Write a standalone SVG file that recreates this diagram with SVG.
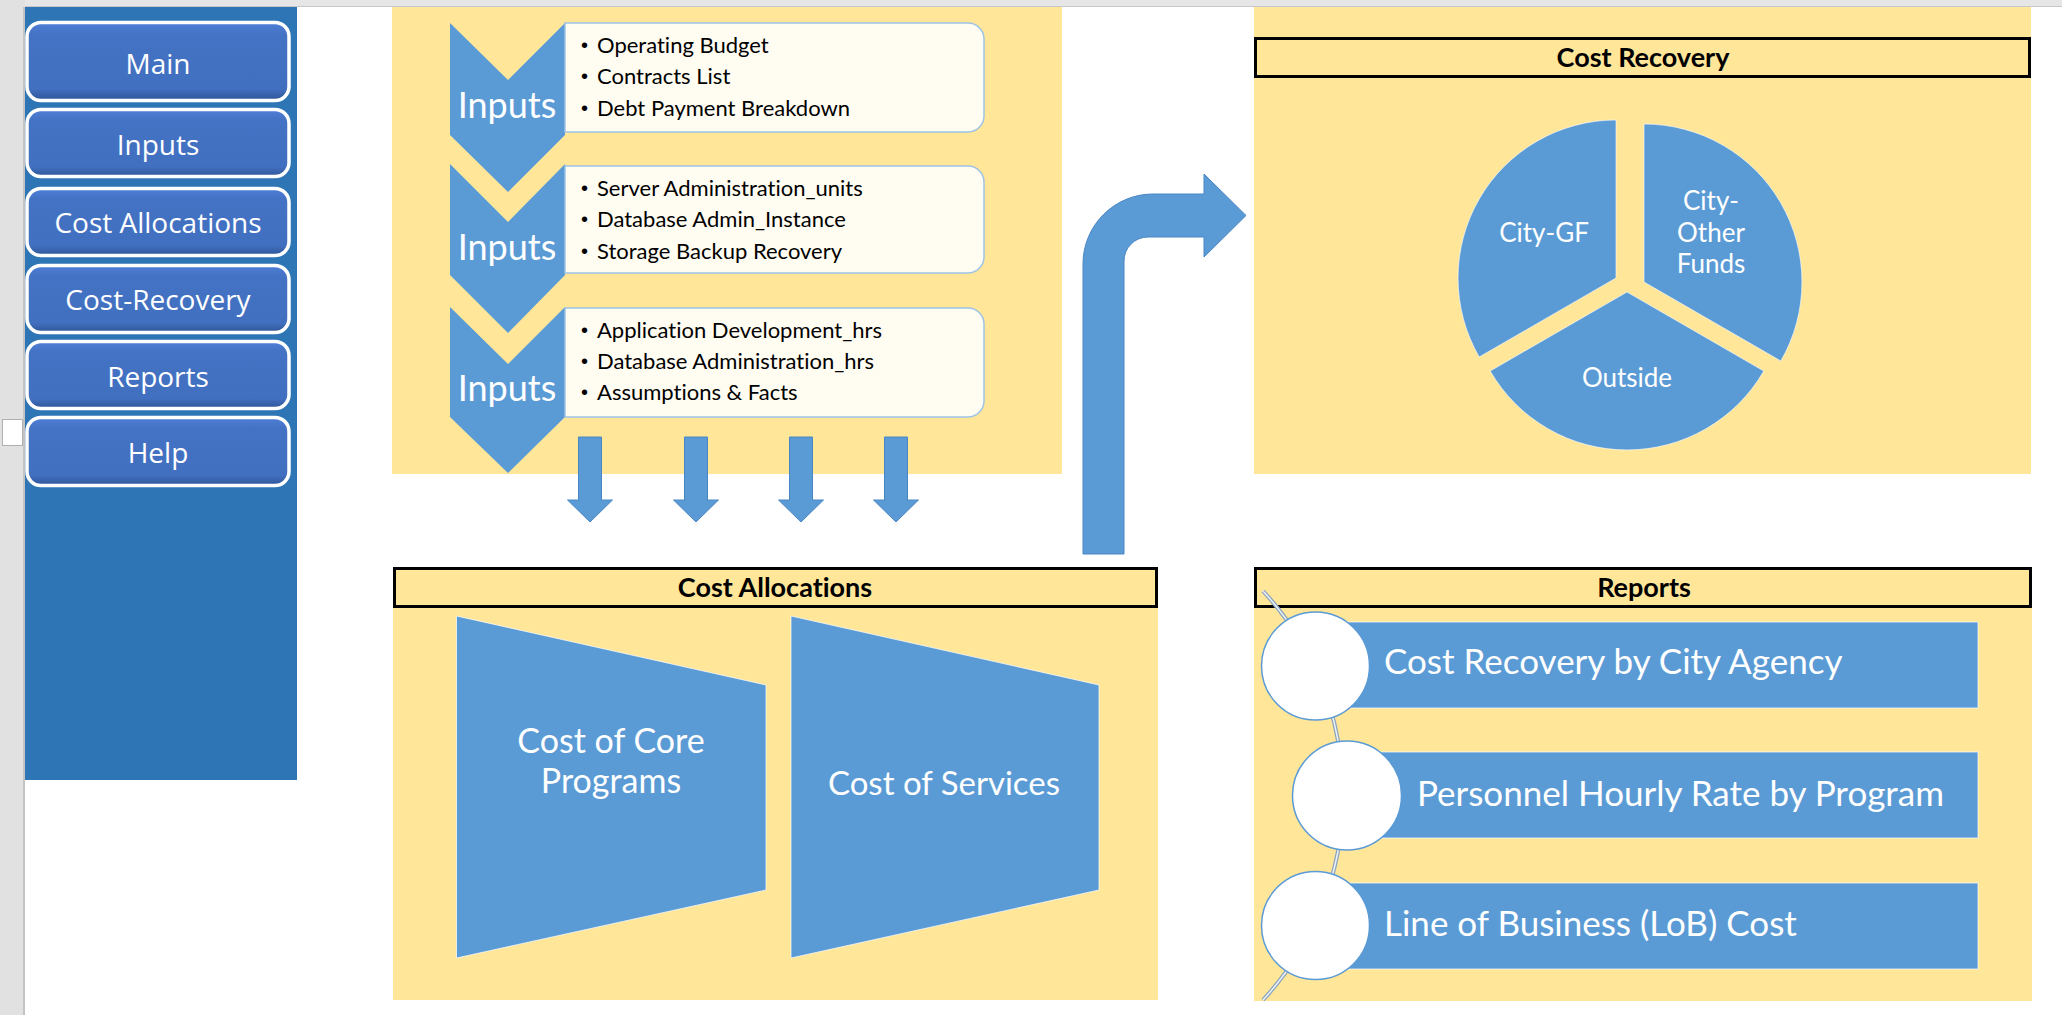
<svg xmlns="http://www.w3.org/2000/svg" width="2062" height="1015" viewBox="0 0 2062 1015">
<defs>
<linearGradient id="btnGrad" x1="0" y1="0" x2="0" y2="1">
<stop offset="0" stop-color="#4f80d8"/>
<stop offset="0.15" stop-color="#4472c4"/>
<stop offset="0.85" stop-color="#4270c0"/>
<stop offset="1" stop-color="#2f5597"/>
</linearGradient>
<style>
text{font-variant-ligatures:none;font-feature-settings:"liga" 0,"clig" 0}
.panel{fill:#ffe699}
.blue{fill:#5b9bd5}
.arrow{fill:#5b9bd5;stroke:#4a86c4;stroke-width:1}
.hdr{fill:#ffe699;stroke:#000;stroke-width:3}
.hdrt{font-family:Lato,"Liberation Sans",sans-serif;font-weight:bold;font-size:27px;fill:#000;text-anchor:middle}
.btn{fill:url(#btnGrad);stroke:#fff;stroke-width:3.5}
.btnt{font-family:"Open Sans","DejaVu Sans",sans-serif;font-size:28px;fill:#fff;text-anchor:middle}
.box{fill:#fffcf2;stroke:#9dc3e6;stroke-width:1.5}
.bul{font-family:Lato,"Liberation Sans",sans-serif;font-size:22px;fill:#000}
.dot{font-family:"Liberation Sans",sans-serif;font-size:20px;fill:#000}
.inp{font-family:Lato,"Liberation Sans",sans-serif;font-size:36px;fill:#fff;text-anchor:middle}
.wt{font-family:Lato,"Liberation Sans",sans-serif;fill:#fff}
.slice{fill:#5b9bd5;stroke:#ffffff;stroke-opacity:0.6;stroke-width:1}
.bar{fill:#5b9bd5;stroke:#ffffff;stroke-opacity:0.7;stroke-width:1}
.circ{fill:#fff;stroke:#5b9bd5;stroke-width:1.5}
</style>
</defs>

<!-- window chrome -->
<rect x="0" y="0" width="2062" height="1015" fill="#ffffff"/>
<rect x="0" y="0" width="2062" height="7" fill="#e6e6e6"/>
<line x1="0" y1="6.5" x2="2062" y2="6.5" stroke="#c8c8c8" stroke-width="1"/>
<rect x="0" y="0" width="25" height="1015" fill="#e1e1e1"/>
<line x1="24" y1="7" x2="24" y2="1015" stroke="#b8b8b8" stroke-width="1.5"/>
<rect x="2.5" y="419.5" width="20" height="26" fill="#ffffff" stroke="#b0b0b0" stroke-width="1"/>

<!-- sidebar -->
<g id="sidebar">
<rect x="25" y="7" width="272" height="773" fill="#2e75b6"/>
<g id="btn-main"><rect class="btn" x="27" y="22.5" width="262" height="78" rx="14"/><text class="btnt" x="158" y="74">Main</text></g>
<g id="btn-inputs"><rect class="btn" x="27" y="109.5" width="262" height="67" rx="14"/><text class="btnt" x="158" y="155">Inputs</text></g>
<g id="btn-costalloc"><rect class="btn" x="27" y="188.5" width="262" height="67" rx="14"/><text class="btnt" x="158" y="233">Cost Allocations</text></g>
<g id="btn-costrec"><rect class="btn" x="27" y="265.5" width="262" height="67" rx="14"/><text class="btnt" x="158" y="310">Cost-Recovery</text></g>
<g id="btn-reports"><rect class="btn" x="27" y="341.5" width="262" height="67" rx="14"/><text class="btnt" x="158" y="387">Reports</text></g>
<g id="btn-help"><rect class="btn" x="27" y="417.5" width="262" height="68" rx="14"/><text class="btnt" x="158" y="463">Help</text></g>
</g>

<!-- panels -->
<rect class="panel" x="392" y="7" width="670" height="467"/>
<rect class="panel" x="1254" y="7" width="777" height="467"/>
<rect class="panel" x="393" y="567" width="765" height="433"/>
<rect class="panel" x="1254" y="567" width="778" height="434"/>

<!-- Inputs group -->
<g id="inputs1">
<path class="blue" d="M450,23 L508,80 L565,23 L565,135 L508,192 L450,135 Z"/>
<path class="box" d="M565,23 H968 A16,16 0 0 1 984,39 V116 A16,16 0 0 1 968,132 H565 Z"/>
<text class="inp" x="507" y="118">Inputs</text>
<text class="dot" x="581" y="52">•</text><text class="bul" x="597" y="53">Operating Budget</text>
<text class="dot" x="581" y="83">•</text><text class="bul" x="597" y="84">Contracts List</text>
<text class="dot" x="581" y="115">•</text><text class="bul" x="597" y="116">Debt Payment Breakdown</text>
</g>
<g id="inputs2">
<path class="blue" d="M450,164 L508,222 L565,164 L565,275 L508,333 L450,275 Z"/>
<path class="box" d="M565,166 H968 A16,16 0 0 1 984,182 V257 A16,16 0 0 1 968,273 H565 Z"/>
<text class="inp" x="507" y="260">Inputs</text>
<text class="dot" x="581" y="195">•</text><text class="bul" x="597" y="196">Server Administration_units</text>
<text class="dot" x="581" y="226">•</text><text class="bul" x="597" y="227">Database Admin_Instance</text>
<text class="dot" x="581" y="258">•</text><text class="bul" x="597" y="259">Storage Backup Recovery</text>
</g>
<g id="inputs3">
<path class="blue" d="M450,307 L508,364 L565,307 L565,417 L508,473 L450,417 Z"/>
<path class="box" d="M565,308 H968 A16,16 0 0 1 984,324 V401 A16,16 0 0 1 968,417 H565 Z"/>
<text class="inp" x="507" y="401">Inputs</text>
<text class="dot" x="581" y="337">•</text><text class="bul" x="597" y="338">Application Development_hrs</text>
<text class="dot" x="581" y="368">•</text><text class="bul" x="597" y="369">Database Administration_hrs</text>
<text class="dot" x="581" y="399">•</text><text class="bul" x="597" y="400">Assumptions &amp; Facts</text>
</g>

<!-- connectors -->
<g id="connectors">
<path class="arrow" d="M578.5,437 H601.5 V500 H612.5 L590,522 L567.5,500 H578.5 Z"/>
<path class="arrow" d="M684.5,437 H707.5 V500 H718.5 L696,522 L673.5,500 H684.5 Z"/>
<path class="arrow" d="M789.5,437 H812.5 V500 H823.5 L801,522 L778.5,500 H789.5 Z"/>
<path class="arrow" d="M884.5,437 H907.5 V500 H918.5 L896,522 L873.5,500 H884.5 Z"/>
<path class="arrow" d="M1083,554 V264 A70,70 0 0 1 1153,194 H1204 V174 L1246,215.5 L1204,257 V237 H1148 A24,24 0 0 0 1124,261 V554 Z"/>
</g>

<!-- Cost Recovery -->
<g id="cost-recovery">
<rect class="hdr" x="1255.5" y="38.5" width="774" height="38"/>
<text class="hdrt" x="1643" y="67">Cost Recovery</text>
<g id="slice-gf">
<path class="slice" d="M1616,278 L1616,120 A158,158 0 0 0 1479.2,357 Z"/>
<text class="wt" x="1544" y="242" font-size="26" text-anchor="middle">City-GF</text>
</g>
<g id="slice-other">
<path class="slice" d="M1644,282 L1644,124 A158,158 0 0 1 1780.8,361 Z"/>
<text class="wt" font-size="26" text-anchor="middle"><tspan x="1711" y="210">City-</tspan><tspan x="1711" y="242">Other</tspan><tspan x="1711" y="273">Funds</tspan></text>
</g>
<g id="slice-outside">
<path class="slice" d="M1627,292 L1763.8,371 A158,158 0 0 1 1490.2,371 Z"/>
<text class="wt" x="1627" y="387" font-size="26" text-anchor="middle">Outside</text>
</g>
</g>

<!-- Cost Allocations -->
<g id="cost-allocations">
<rect class="hdr" x="394.5" y="568.5" width="762" height="38"/>
<text class="hdrt" x="775" y="597">Cost Allocations</text>
<g id="core-programs">
<path class="bar" d="M456.5,616 L766,685 L766,890 L456.5,958 Z"/>
<text class="wt" font-size="34" text-anchor="middle"><tspan x="611" y="753">Cost of Core</tspan><tspan x="611" y="793">Programs</tspan></text>
</g>
<g id="services">
<path class="bar" d="M791,616 L1099,685 L1099,890 L791,958 Z"/>
<text class="wt" x="944" y="795" font-size="33" text-anchor="middle">Cost of Services</text>
</g>
</g>

<!-- Reports -->
<g id="reports">
<rect class="hdr" x="1255.5" y="568.5" width="775" height="38"/>
<text class="hdrt" x="1644" y="597">Reports</text>
<g id="report1"><rect class="bar" x="1316" y="622" width="662" height="86"/></g>
<g id="report2"><rect class="bar" x="1347" y="752" width="631" height="86"/></g>
<g id="report3"><rect class="bar" x="1316" y="883" width="662" height="86"/></g>
<path d="M1263,591 A301,301 0 0 1 1263,1000" fill="none" stroke="#8aa4bd" stroke-width="4"/>
<path d="M1263,591 A301,301 0 0 1 1263,1000" fill="none" stroke="#eef3f8" stroke-width="1.5"/>
<circle class="circ" cx="1315.5" cy="666" r="54"/>
<circle class="circ" cx="1347" cy="795.5" r="54.5"/>
<circle class="circ" cx="1315.5" cy="925.5" r="54"/>
<text class="wt" x="1384" y="674" font-size="35">Cost Recovery by City Agency</text>
<text class="wt" x="1417" y="806" font-size="35">Personnel Hourly Rate by Program</text>
<text class="wt" x="1384" y="936" font-size="35">Line of Business (LoB) Cost</text>
</g>
</svg>
